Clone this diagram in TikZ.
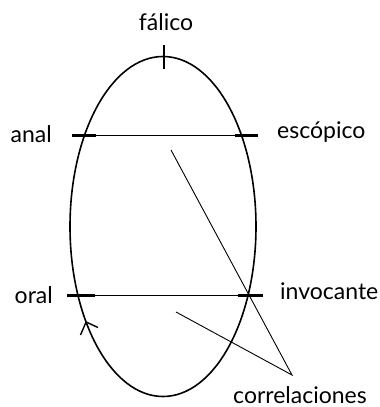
\documentclass[tikz,border=0pt]{standalone}
\usepackage{fontspec}
\setmainfont{Lato}
\begin{document}
\begin{tikzpicture}[x=1pt,y=-1pt,
  lbl/.style={font=\fontsize{23}{25}\selectfont, inner sep=0pt},
  thin line/.style={line width=0.9pt},
  tick/.style={line width=3pt},
  curve/.style={line width=1.6pt}]
\useasboundingbox (0,0) rectangle (380,407);
% ellipse
\draw[curve] (163,226.5) ellipse [x radius=93, y radius=170];
% coordinates
\coordinate (ulA) at (72,135);  \coordinate (ulB) at (96,135);
\coordinate (urA) at (235,135); \coordinate (urB) at (258,135);
\coordinate (llA) at (67,295);  \coordinate (llB) at (95,295);
\coordinate (lrA) at (238,295); \coordinate (lrB) at (263,295);
\coordinate (topA) at (164,45); \coordinate (topB) at (164,69);
\coordinate (s1) at (171,150);
\coordinate (s2) at (176,312);
\coordinate (meet) at (292,375);
\coordinate (tip) at (86.1,322);
\coordinate (barb1) at (80.5,335);
\coordinate (barb2) at (98,327.5);
% horizontal lines
\draw[thin line] (ulA) -- (urB);
\draw[thin line] (llA) -- (lrB);
% ticks
\draw[tick] (ulA) -- (ulB);
\draw[tick] (urA) -- (urB);
\draw[tick] (llA) -- (llB);
\draw[tick] (lrA) -- (lrB);
\draw[line width=2.4pt] (topA) -- (topB);
% correlation lines
\draw[thin line] (s1) -- (meet) -- (s2);
% arrowhead
\draw[line width=1.4pt] (barb1) -- (tip) -- (barb2);
% labels
\node[lbl, anchor=base] (falico) at (166,30) {fálico};
\node[lbl, anchor=base east] (anal) at (52,142) {anal};
\node[lbl, anchor=base west] (escopico) at (277,138) {escópico};
\node[lbl, anchor=base east] (oral) at (53,303) {oral};
\node[lbl, anchor=base west] (invocante) at (280,299) {invocante};
\node[lbl, anchor=base] (correlaciones) at (300,403) {correlaciones};
\end{tikzpicture}
\end{document}
